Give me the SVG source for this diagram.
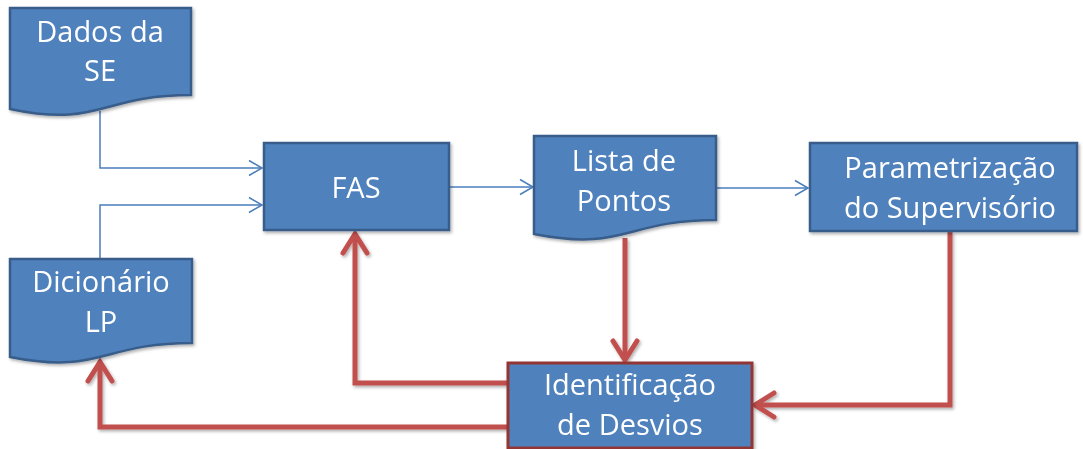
<svg xmlns="http://www.w3.org/2000/svg" width="1083" height="449" viewBox="0 0 1083 449">
  <style>
    .node { fill: #4F81BD; stroke: #385D8A; stroke-width: 2.5; }
    .alert { fill: #4F81BD; stroke: #943634; stroke-width: 3; }
    .label { font-family: "Open Sans", "Noto Sans", sans-serif; font-size: 29px; fill: #FFFFFF; text-anchor: middle; }
    .thin { fill: none; stroke: #4A7EBB; stroke-width: 1.5; }
    .thick { fill: none; stroke: #C0504D; stroke-width: 5; stroke-linejoin: miter; }
  </style>
  <defs>
    <filter id="shadow" x="-10%" y="-10%" width="130%" height="130%">
      <feDropShadow dx="1.5" dy="2" stdDeviation="1.5" flood-color="#000000" flood-opacity="0.3"/>
    </filter>
    <marker id="blueArrow" markerUnits="userSpaceOnUse" markerWidth="20" markerHeight="20" viewBox="-16 -10 20 20" refX="0" refY="0" orient="auto">
      <path d="M-13,-7.5 L0,0 L-13,7.5" fill="none" stroke="#4A7EBB" stroke-width="1.5"/>
    </marker>
    <marker id="redArrow" markerUnits="userSpaceOnUse" markerWidth="36" markerHeight="36" viewBox="-26 -18 36 36" refX="0" refY="0" orient="auto">
      <path d="M-19,-12 L0,0 L-19,12" fill="none" stroke="#C0504D" stroke-width="5" stroke-linecap="round" stroke-linejoin="miter"/>
    </marker>
  </defs>
  <rect width="1083" height="449" fill="#FFFFFF"/>

  <g id="connectors">
    <path class="thin" d="M100,111 V168 H262" marker-end="url(#blueArrow)"/>
    <path class="thin" d="M100,258 V205 H262" marker-end="url(#blueArrow)"/>
    <path class="thin" d="M450,187 H533" marker-end="url(#blueArrow)"/>
    <path class="thin" d="M717,188 H808" marker-end="url(#blueArrow)"/>
    <g filter="url(#shadow)">
      <path class="thick" d="M625,238 V360" marker-end="url(#redArrow)"/>
      <path class="thick" d="M507,383 H355 V234" marker-end="url(#redArrow)"/>
      <path class="thick" d="M507,427 H100 V362" marker-end="url(#redArrow)"/>
      <path class="thick" d="M950,232 V405 H755" marker-end="url(#redArrow)"/>
    </g>
  </g>

  <g id="dados-se" filter="url(#shadow)">
    <path class="node" d="M10,8 H191 V95 C100.5,95 100.5,128 10,109 Z"/>
    <text class="label" x="100" y="42">Dados da</text>
    <text class="label" x="100" y="81">SE</text>
  </g>

  <g id="dicionario-lp" filter="url(#shadow)">
    <path class="node" d="M10,259 H192 V343 C101,343 101,375 10,357 Z"/>
    <text class="label" x="101" y="292">Dicionário</text>
    <text class="label" x="101" y="332">LP</text>
  </g>

  <g id="fas" filter="url(#shadow)">
    <rect class="node" x="264" y="143" width="185" height="87"/>
    <text class="label" x="356" y="198">FAS</text>
  </g>

  <g id="lista-pontos" filter="url(#shadow)">
    <path class="node" d="M534,136 H716 V220 C625,220 625,252 534,234 Z"/>
    <text class="label" x="624" y="171">Lista de</text>
    <text class="label" x="624" y="211">Pontos</text>
  </g>

  <g id="parametrizacao" filter="url(#shadow)">
    <rect class="node" x="810" y="143" width="267" height="88"/>
    <text class="label" x="950" y="178">Parametrização</text>
    <text class="label" x="950" y="218">do Supervisório</text>
  </g>

  <g id="identificacao" filter="url(#shadow)">
    <rect class="alert" x="508" y="363" width="244" height="85"/>
    <text class="label" x="630" y="395">Identificação</text>
    <text class="label" x="630" y="435">de Desvios</text>
  </g>
</svg>
